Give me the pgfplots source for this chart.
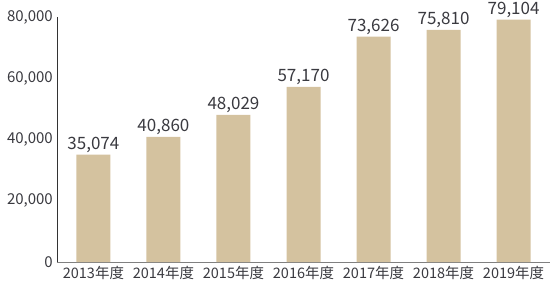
\documentclass[border=0pt]{standalone}
\usepackage{pgfplots}
\pgfplotsset{compat=1.18}
\usepackage{fontspec}
\setmainfont{Noto Sans CJK JP}
\definecolor{barc}{HTML}{D4C29F}
\definecolor{txt}{HTML}{3A3A40}
\begin{document}
\begin{tikzpicture}
\begin{axis}[
  scale only axis,
  width=493pt, height=245pt,
  xmin=-0.52, xmax=6.52,
  ymin=0, ymax=80000,
  clip=false,
  axis x line*=bottom,
  axis y line*=left,
  x axis line style={draw=black!50, line width=0.8pt, -},
  y axis line style={draw=black!80, line width=0.8pt, -},
  major tick length=0pt,
  xtick=data,
  xticklabels={2013年度,2014年度,2015年度,2016年度,2017年度,2018年度,2019年度},
  ytick={0,20000,40000,60000,80000},
  scaled y ticks=false,
  /pgf/number format/.cd, 1000 sep={,}, assume math mode=true,
  /pgfplots/.cd,
  yticklabel style={font=\fontsize{15pt}{15pt}\selectfont, color=txt, inner sep=0pt, xshift=-4pt},
  xticklabel style={font=\fontsize{14.5pt}{15pt}\selectfont, color=txt, inner sep=0pt, yshift=-4pt},
  ybar, bar width=34pt,
  nodes near coords,
  every node near coord/.append style={font=\fontsize{17pt}{17pt}\selectfont, color=txt, inner sep=0pt, yshift=1.5pt, /pgf/number format/1000 sep={,}, /pgf/number format/assume math mode=true},
]
\addplot[fill=barc, draw=none] coordinates {(0,35074) (1,40860) (2,48029) (3,57170) (4,73626) (5,75810) (6,79104)};
\path (rel axis cs:0,0) ++(-57pt,-25pt) rectangle ++(554pt,287pt);
\end{axis}
\end{tikzpicture}
\end{document}
